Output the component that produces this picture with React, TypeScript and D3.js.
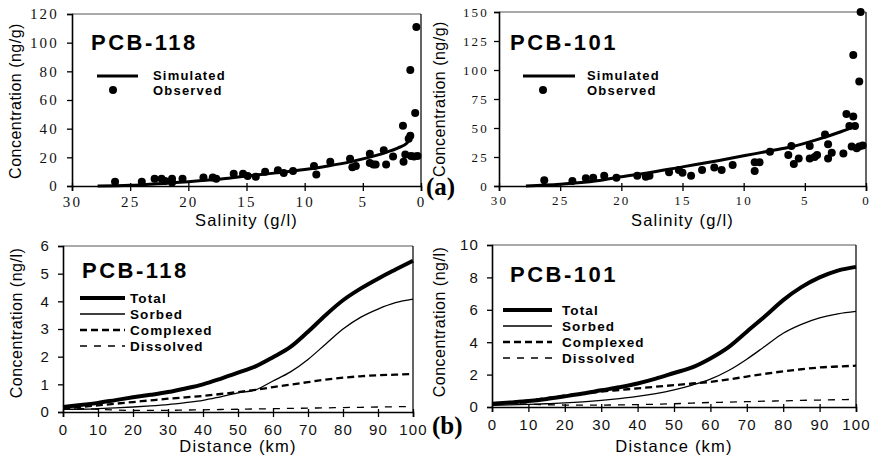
import React, { useEffect, useRef } from "react";
import * as d3 from "d3";

// Salinity profiles (g/l, ng/g)
const sal118Sim: [number, number][] = [
  [27.8, 0], [25, 0.5], [22, 2], [20, 3], [17, 5], [15, 7], [12, 9.5], [10, 11.5],
  [8, 14], [6, 17], [4, 21], [3, 23.5], [2, 26.5], [1.2, 30], [0.8, 35],
];
const sal118Obs: [number, number][] = [
  [26.3, 3], [24.0, 3], [22.9, 5], [22.3, 5], [22.0, 3.5], [21.4, 5], [21.4, 2.5],
  [20.5, 5], [18.7, 6], [17.9, 6], [17.6, 5], [16.1, 8.5], [15.3, 8.5], [14.9, 7],
  [14.2, 6.5], [13.4, 10], [12.3, 11], [11.8, 9], [11.0, 10.5], [9.2, 14], [9.0, 8],
  [7.8, 17], [6.1, 19], [5.9, 13], [5.6, 14], [4.4, 22.5], [4.4, 16], [4.1, 15],
  [3.9, 15], [3.2, 25], [3.0, 15], [2.4, 20.5], [1.55, 42], [1.5, 17], [1.35, 22],
  [1.06, 33], [0.92, 35], [0.92, 81], [0.86, 21], [0.6, 20.5], [0.5, 51], [0.4, 111],
  [0.3, 21],
];
const sal101Sim: [number, number][] = [
  [27.8, 0], [25, 1.5], [22, 4.5], [20, 8], [18, 11], [15, 16.5], [12, 22], [10, 26],
  [8, 30], [6, 34], [4, 40], [2, 47], [1, 51],
];
const sal101Obs: [number, number][] = [
  [26.3, 5], [24.0, 4.3], [22.9, 6.6], [22.3, 7.2], [21.4, 8.9], [20.4, 7.2], [18.7, 8.9],
  [18.0, 8], [17.7, 8.9], [16.1, 11.8], [15.3, 13.8], [15.0, 11.5], [14.3, 8.9],
  [13.4, 13.8], [12.4, 16], [11.8, 13.8], [10.9, 18], [9.1, 20.4], [9.1, 13], [8.7, 20.4],
  [7.85, 29.6], [6.35, 26.7], [6.1, 34.5], [5.9, 19], [5.5, 23.8], [4.6, 34.5], [4.6, 23.8],
  [4.2, 25], [4.0, 26.7], [3.35, 44.5], [3.1, 36], [3.1, 23.8], [2.8, 28.7], [1.85, 28],
  [1.6, 62], [1.36, 51.7], [1.17, 34], [1.04, 60], [1.04, 113], [0.9, 51.7], [0.76, 32.5],
  [0.55, 90], [0.55, 34], [0.44, 150], [0.27, 35],
];

// Distance profiles (km, ng/l)
const distanceKm = [0, 5, 10, 15, 20, 25, 30, 35, 40, 45, 50, 55, 60, 65, 70, 75, 80, 85, 90, 95, 100];
const total118 = [0.18, 0.25, 0.33, 0.43, 0.53, 0.62, 0.72, 0.85, 1.0, 1.2, 1.42, 1.65, 1.98, 2.35, 2.9, 3.5, 4.04, 4.46, 4.82, 5.15, 5.47];
const sorbed118 = [0.1, 0.1, 0.12, 0.15, 0.18, 0.22, 0.27, 0.34, 0.42, 0.55, 0.69, 0.8, 1.12, 1.45, 1.9, 2.45, 3.0, 3.42, 3.72, 3.95, 4.08];
const complexed118 = [0.12, 0.18, 0.24, 0.3, 0.36, 0.42, 0.48, 0.53, 0.58, 0.65, 0.72, 0.8, 0.9, 0.99, 1.08, 1.17, 1.24, 1.29, 1.33, 1.35, 1.37];
const dissolved118 = [0.17, 0.13, 0.1, 0.07, 0.06, 0.06, 0.06, 0.07, 0.08, 0.09, 0.1, 0.11, 0.12, 0.13, 0.14, 0.15, 0.16, 0.17, 0.18, 0.19, 0.2];
const total101 = [0.2, 0.28, 0.37, 0.5, 0.66, 0.83, 1.03, 1.22, 1.45, 1.75, 2.1, 2.45, 3.0, 3.7, 4.65, 5.6, 6.6, 7.4, 8.0, 8.42, 8.65];
const sorbed101 = [0.1, 0.13, 0.16, 0.2, 0.25, 0.32, 0.41, 0.52, 0.65, 0.82, 1.05, 1.35, 1.72, 2.25, 2.95, 3.75, 4.55, 5.1, 5.5, 5.75, 5.9];
const complexed101 = [0.2, 0.3, 0.4, 0.55, 0.7, 0.83, 0.95, 1.05, 1.15, 1.25, 1.35, 1.45, 1.55, 1.7, 1.88, 2.05, 2.2, 2.33, 2.44, 2.5, 2.55];
const dissolved101 = [0.25, 0.22, 0.18, 0.14, 0.12, 0.11, 0.12, 0.13, 0.15, 0.17, 0.2, 0.24, 0.28, 0.3, 0.33, 0.36, 0.38, 0.41, 0.43, 0.45, 0.47];

const salinityTicks = [30, 25, 20, 15, 10, 5, 0];
const distanceTicks = [0, 10, 20, 30, 40, 50, 60, 70, 80, 90, 100];
const seriesNames = ["Total", "Sorbed", "Complexed", "Dissolved"];

const SANS = "'Liberation Sans', Arial, sans-serif";
const SERIF = "'Liberation Serif', 'Times New Roman', serif";

/** Line style of each fraction. */
const fractionStyle = [
  { width: 4, dash: null },
  { width: 1.3, dash: null },
  { width: 2.3, dash: "7,4" },
  { width: 1.3, dash: "7,7" },
];

/** Draws axes, border and labels shared by every panel. */
function drawFrame(g, p, x, y, yTicks, tickFont, tickSize, tickSpacing) {
  // top and right border
  g.append("line").attr("x1", p.left).attr("x2", p.right).attr("y1", p.top).attr("y2", p.top)
    .attr("stroke", "#555").attr("stroke-width", 1);
  g.append("line").attr("x1", p.right).attr("x2", p.right).attr("y1", p.top).attr("y2", p.bottom)
    .attr("stroke", "#111").attr("stroke-width", 1.3);

  const xAxis = g.append("g").attr("transform", `translate(0,${p.bottom})`)
    .call(d3.axisBottom(x).tickValues(p.xTicks).tickSize(5).tickPadding(p.xPad).tickFormat(d3.format("d")));
  xAxis.selectAll(".tick line").attr("y1", -3).attr("stroke-width", 1.3);
  const yAxis = g.append("g").attr("transform", `translate(${p.left},0)`)
    .call(d3.axisLeft(y).tickValues(yTicks).tickSize(5).tickPadding(p.yPad).tickFormat(d3.format("d")));
  yAxis.selectAll(".tick line").attr("stroke-width", 1.3);

  [xAxis, yAxis].forEach((a) => {
    a.select(".domain").attr("stroke-width", 1.6);
    a.selectAll(".tick text")
      .attr("font-family", tickFont)
      .attr("font-size", tickSize)
      .attr("letter-spacing", tickSpacing)
      .attr("fill", "#111");
  });

  // panel title
  g.append("text").attr("x", p.titleX).attr("y", p.titleY)
    .attr("font-family", SANS).attr("font-weight", "bold").attr("font-size", 22)
    .attr("letter-spacing", 2.5).text(p.title);

  // axis titles
  g.append("text").attr("x", (p.left + p.right) / 2).attr("y", p.xLabelY)
    .attr("text-anchor", "middle").attr("font-family", SANS).attr("font-size", 16.5)
    .attr("letter-spacing", 1.2).text(p.xLabel);
  g.append("text")
    .attr("transform", `translate(${p.yLabelX},${p.yLabelMid}) rotate(-90)`)
    .attr("text-anchor", "middle").attr("font-family", SANS).attr("font-size", 16)
    .attr("letter-spacing", 0.5).text(p.yLabel);
}

/** Top row: simulated line and observed dots against salinity. */
function drawSalinity(svg, p, sim, obs, yMax, yStep, tickSize) {
  const g = svg.append("g");
  const x = d3.scaleLinear().domain([30, 0]).range([p.left, p.right]);
  const y = d3.scaleLinear().domain([0, yMax]).range([p.bottom, p.top]);
  drawFrame(g, p, x, y, d3.range(0, yMax + 1, yStep), SERIF, tickSize, 2.2);

  const line = d3.line().x((d) => x(d[0])).y((d) => y(d[1])).curve(d3.curveMonotoneX);
  g.append("path").datum([...sim].sort((a, b) => b[0] - a[0])).attr("d", line)
    .attr("fill", "none").attr("stroke", "#000").attr("stroke-width", 3);
  g.append("g").selectAll("circle").data(obs).join("circle")
    .attr("cx", (d) => x(d[0])).attr("cy", (d) => y(d[1])).attr("r", 4).attr("fill", "#000");

  // legend
  g.append("line").attr("x1", p.legX1).attr("x2", p.legX2).attr("y1", 76).attr("y2", 76)
    .attr("stroke", "#000").attr("stroke-width", 3);
  g.append("circle").attr("cx", p.dotX).attr("cy", 90).attr("r", 4).attr("fill", "#000");
  ["Simulated", "Observed"].forEach((t, i) => {
    g.append("text").attr("x", p.legTextX).attr("y", 80 + i * 14.5)
      .attr("font-family", SANS).attr("font-weight", "bold").attr("font-size", 13)
      .attr("letter-spacing", 1.2).text(t);
  });
}

/** Bottom row: four fractions against distance. */
function drawDistance(svg, p, series, yMax, yStep) {
  const g = svg.append("g");
  const x = d3.scaleLinear().domain([0, 100]).range([p.left, p.right]);
  const y = d3.scaleLinear().domain([0, yMax]).range([p.bottom, p.top]);
  drawFrame(g, p, x, y, d3.range(0, yMax + 1, yStep), SANS, 15, 1.2);

  const line = d3.line().x((d, i) => x(distanceKm[i])).y((d) => y(d)).curve(d3.curveMonotoneX);
  series.forEach((s, k) => {
    const st = fractionStyle[k];
    g.append("path").datum(s).attr("d", line).attr("fill", "none").attr("stroke", "#000")
      .attr("stroke-width", st.width).attr("stroke-dasharray", st.dash);
  });

  // legend
  seriesNames.forEach((name, k) => {
    const st = fractionStyle[k];
    const ly = p.legY + k * 16;
    g.append("line").attr("x1", p.legX1).attr("x2", p.legX2).attr("y1", ly).attr("y2", ly)
      .attr("stroke", "#000").attr("stroke-width", st.width).attr("stroke-dasharray", st.dash);
    g.append("text").attr("x", p.legTextX).attr("y", ly + 5)
      .attr("font-family", SANS).attr("font-weight", "bold").attr("font-size", 13.5)
      .attr("letter-spacing", 1.1).text(name);
  });
}

export default function App() {
  const ref = useRef(null);

  useEffect(() => {
    const svg = d3.select(ref.current);
    svg.selectAll("*").remove();

    drawSalinity(svg, {
      left: 72, right: 421, top: 14, bottom: 186, xTicks: salinityTicks, xPad: 5, yPad: 8,
      title: "PCB-118", titleX: 91, titleY: 50, xLabel: "Salinity (g/l)", xLabelY: 226,
      yLabel: "Concentration (ng/g)", yLabelX: 21, yLabelMid: 101,
      legX1: 97, legX2: 138, legTextX: 153, dotX: 113,
    }, sal118Sim, sal118Obs, 120, 20, 15);

    drawSalinity(svg, {
      left: 499, right: 866, top: 12, bottom: 186, xTicks: salinityTicks, xPad: 5, yPad: 5,
      title: "PCB-101", titleX: 510, titleY: 50, xLabel: "Salinity (g/l)", xLabelY: 226,
      yLabel: "Concentration (ng/g)", yLabelX: 445, yLabelMid: 99,
      legX1: 523, legX2: 575, legTextX: 587, dotX: 543,
    }, sal101Sim, sal101Obs, 150, 25, 13);

    drawDistance(svg, {
      left: 63, right: 413, top: 246, bottom: 412, xTicks: distanceTicks, xPad: 7, yPad: 8,
      title: "PCB-118", titleX: 82, titleY: 278, xLabel: "Distance (km)", xLabelY: 452,
      yLabel: "Concentration (ng/l)", yLabelX: 22, yLabelMid: 323,
      legX1: 80, legX2: 125, legTextX: 130, legY: 298,
    }, [total118, sorbed118, complexed118, dissolved118], 6, 1);

    drawDistance(svg, {
      left: 492, right: 856, top: 245, bottom: 407, xTicks: distanceTicks, xPad: 7, yPad: 8,
      title: "PCB-101", titleX: 510, titleY: 282, xLabel: "Distance (km)", xLabelY: 452,
      yLabel: "Concentration (ng/l)", yLabelX: 445, yLabelMid: 322,
      legX1: 503, legX2: 552, legTextX: 562, legY: 310,
    }, [total101, sorbed101, complexed101, dissolved101], 10, 2);

    // panel letters
    svg.append("text").attr("x", 426).attr("y", 195).attr("font-family", SERIF)
      .attr("font-weight", "bold").attr("font-size", 25).text("(a)");
    svg.append("text").attr("x", 432).attr("y", 434).attr("font-family", SERIF)
      .attr("font-weight", "bold").attr("font-size", 25).text("(b)");
  }, []);

  return (
    <svg
      ref={ref}
      width={880}
      height={460}
      style={{ position: "absolute", left: 0, top: 0, background: "#fff" }}
    />
  );
}
